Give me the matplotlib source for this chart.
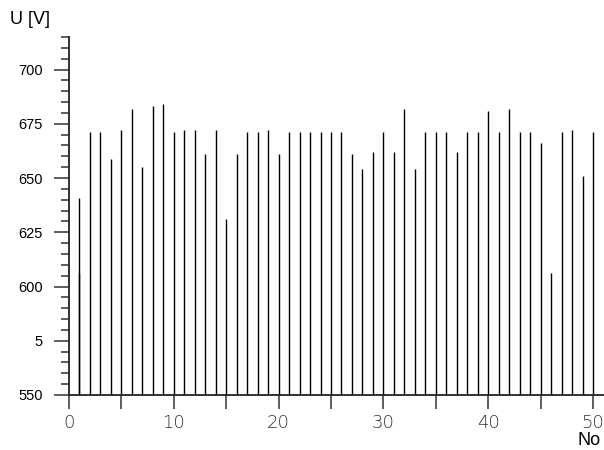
import matplotlib.pyplot as plt
import numpy as np

# measurement number and voltage peaks
no = np.arange(1, 51)
u_peak = [641, 671, 671, 659, 672, 682, 655, 683, 684, 671,
          672, 672, 661, 672, 631, 661, 671, 671, 672, 661,
          671, 671, 671, 671, 671, 671, 661, 654, 662, 671,
          662, 682, 654, 671, 671, 671, 662, 671, 671, 681,
          671, 682, 671, 671, 666, 606, 671, 672, 651, 671]
# second (lower) reading recorded at measurement 1
no_extra = [1]
u_extra = [606]

y_ticks = [550, 575, 600, 625, 650, 675, 700]
y_labels = ["550", "5", "600", "625", "650", "675", "700"]
x_ticks = [0, 10, 20, 30, 40, 50]

fig = plt.figure(figsize=(6.04, 4.5), dpi=100)
ax = fig.add_axes([69 / 604, 55 / 450, 535 / 604, 358 / 450])

ax.vlines(no, 550, u_peak, color="black", linewidth=1.0)
ax.vlines(no_extra, 550, u_extra, color="black", linewidth=1.0)

ax.set_xlim(0, 51.05)
ax.set_ylim(550, 715)

for s in ["top", "right"]:
    ax.spines[s].set_visible(False)
for s in ["left", "bottom"]:
    ax.spines[s].set_linewidth(1.3)
    ax.spines[s].set_color("#222222")

ax.set_yticks(y_ticks)
ax.set_yticklabels(y_labels, fontfamily="Liberation Sans", fontsize=10.5)
ax.set_yticks(np.arange(550, 716, 5), minor=True)
ax.tick_params(axis="y", which="major", length=11, width=1.1, pad=8, color="#333333")
ax.tick_params(axis="y", which="minor", length=6, width=1.1, color="#333333")

ax.set_xticks(x_ticks)
ax.set_xticklabels([str(v) for v in x_ticks], fontfamily="DejaVu Sans",
                   fontweight="light", fontsize=13, color="#333333")
ax.set_xticks(np.arange(0, 51, 5), minor=True)
ax.tick_params(axis="x", which="both", length=10, width=1.1, pad=4, color="#333333")

fig.text(10 / 604, 1 - 20 / 450, "U [V]", fontfamily="Liberation Sans",
         fontsize=13, va="center", ha="left")
fig.text(1 - 3 / 604, 1 / 450, "No", fontfamily="Liberation Sans",
         fontsize=13, va="bottom", ha="right")

fig.savefig("out.png", dpi=100)
